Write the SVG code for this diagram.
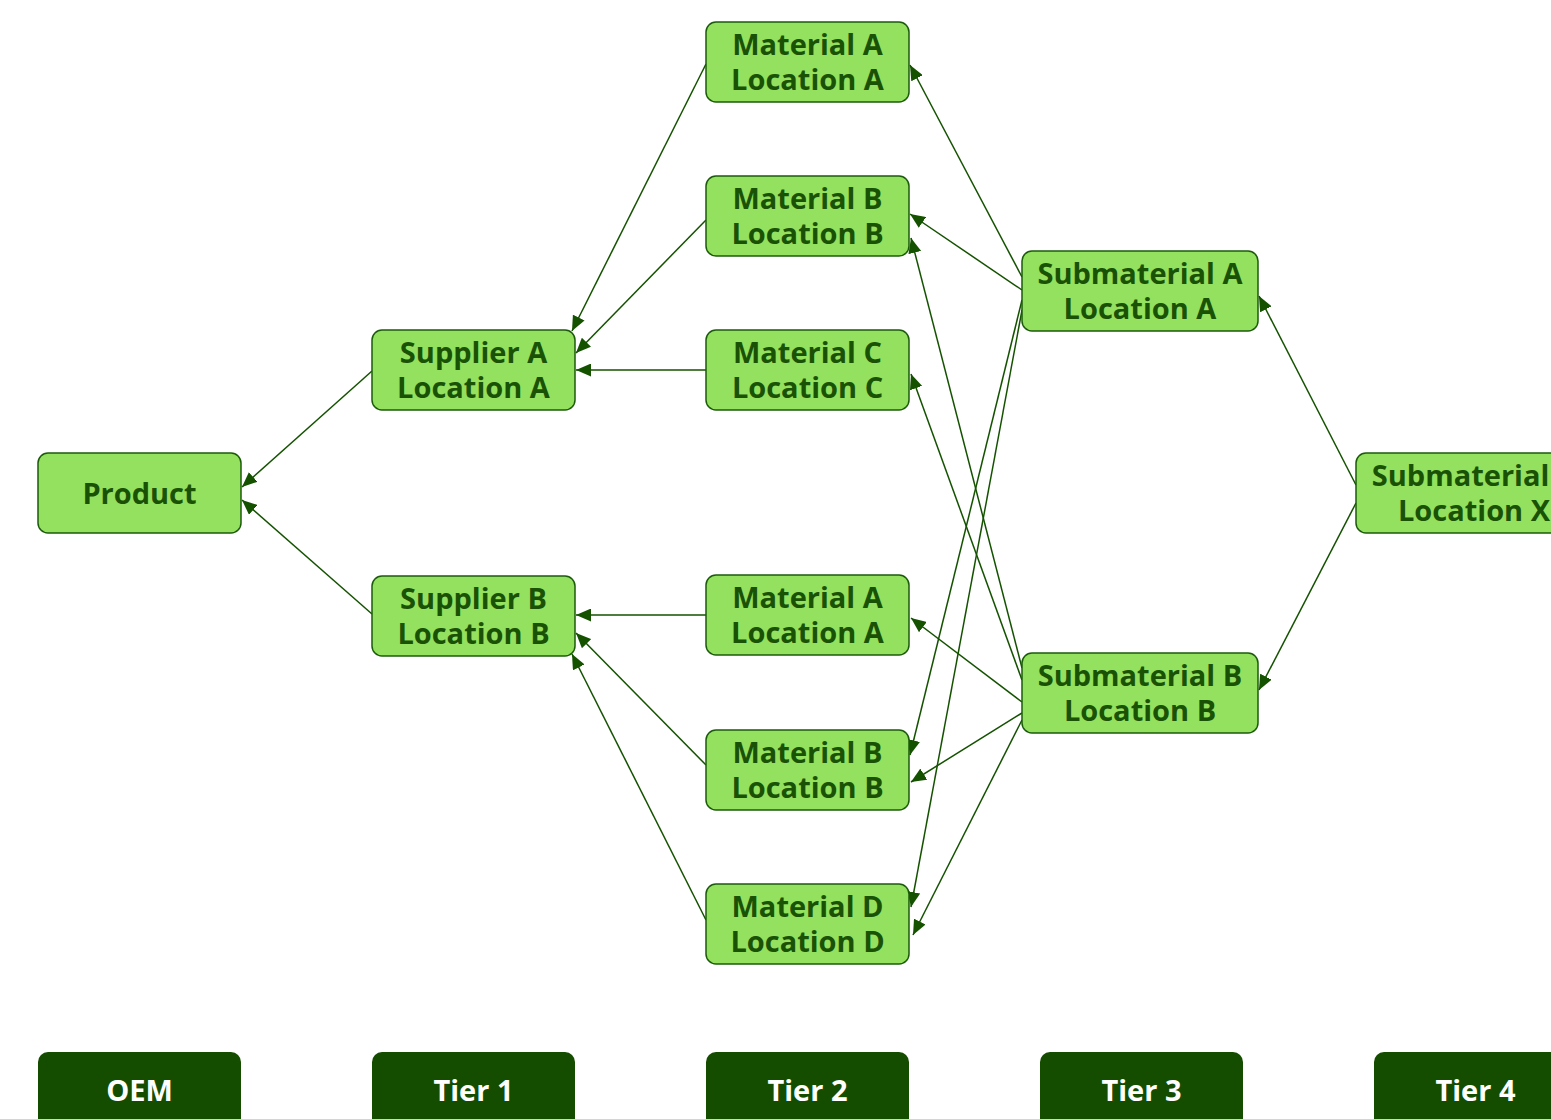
<svg xmlns="http://www.w3.org/2000/svg" width="1551" height="1119" viewBox="0 0 1551 1119">
<style>
.node rect{fill:#93E15E;stroke:#1C5B0B;stroke-width:1.5}
.node text{font-family:"Open Sans","Noto Sans",sans-serif;font-weight:700;font-size:29px;fill:#1A5205;text-anchor:middle}
.tier rect{fill:#144D00;stroke:none}
.tier text{font-family:"Open Sans","Noto Sans",sans-serif;font-weight:700;font-size:29px;fill:#FFFFFF;text-anchor:middle}
.edges line{stroke:#145200;stroke-width:1.5;fill:none;marker-end:url(#arrow)}
</style>
<defs>
<marker id="arrow" markerUnits="userSpaceOnUse" markerWidth="15" markerHeight="13" refX="15" refY="6.5" orient="auto">
<path d="M0,0 L15,6.5 L0,13 z" fill="#145200"/>
</marker>
</defs>
<rect width="1551" height="1119" fill="#FFFFFF"/>
<g class="edges" id="connectors">
<line x1="372" y1="371" x2="242" y2="487"/>
<line x1="372" y1="614" x2="242" y2="500"/>
<line x1="706" y1="64" x2="572" y2="331"/>
<line x1="706" y1="220" x2="576" y2="353"/>
<line x1="706" y1="370" x2="576" y2="370"/>
<line x1="706" y1="615" x2="576" y2="615"/>
<line x1="706" y1="765" x2="576" y2="633"/>
<line x1="706" y1="920" x2="572" y2="654"/>
<line x1="1022" y1="277" x2="910" y2="65"/>
<line x1="1022" y1="290" x2="910" y2="214"/>
<line x1="1022" y1="300" x2="910" y2="755"/>
<line x1="1022" y1="310" x2="911" y2="907"/>
<line x1="1022" y1="668" x2="911" y2="238"/>
<line x1="1022" y1="680" x2="911" y2="374"/>
<line x1="1022" y1="702" x2="911" y2="618"/>
<line x1="1022" y1="713" x2="911" y2="782"/>
<line x1="1022" y1="720" x2="913" y2="935"/>
<line x1="1356" y1="485" x2="1259" y2="296"/>
<line x1="1356" y1="503" x2="1259" y2="690"/>
</g>
<g class="node" id="product"><rect x="38" y="453" width="203" height="80" rx="10"/><text x="139.5" y="503.5">Product</text></g>
<g class="node" id="supplierA"><rect x="372" y="330" width="203" height="80" rx="10"/><text x="473.5" y="363">Supplier A</text><text x="473.5" y="398">Location A</text></g>
<g class="node" id="supplierB"><rect x="372" y="576" width="203" height="80" rx="10"/><text x="473.5" y="609">Supplier B</text><text x="473.5" y="644">Location B</text></g>
<g class="node" id="materialA1"><rect x="706" y="22" width="203" height="80" rx="10"/><text x="807.5" y="55">Material A</text><text x="807.5" y="90">Location A</text></g>
<g class="node" id="materialB1"><rect x="706" y="176" width="203" height="80" rx="10"/><text x="807.5" y="209">Material B</text><text x="807.5" y="244">Location B</text></g>
<g class="node" id="materialC"><rect x="706" y="330" width="203" height="80" rx="10"/><text x="807.5" y="363">Material C</text><text x="807.5" y="398">Location C</text></g>
<g class="node" id="materialA2"><rect x="706" y="575" width="203" height="80" rx="10"/><text x="807.5" y="608">Material A</text><text x="807.5" y="643">Location A</text></g>
<g class="node" id="materialB2"><rect x="706" y="730" width="203" height="80" rx="10"/><text x="807.5" y="763">Material B</text><text x="807.5" y="798">Location B</text></g>
<g class="node" id="materialD"><rect x="706" y="884" width="203" height="80" rx="10"/><text x="807.5" y="917">Material D</text><text x="807.5" y="952">Location D</text></g>
<g class="node" id="submaterialA"><rect x="1022" y="251" width="236" height="80" rx="10"/><text x="1140" y="284">Submaterial A</text><text x="1140" y="319">Location A</text></g>
<g class="node" id="submaterialB"><rect x="1022" y="653" width="236" height="80" rx="10"/><text x="1140" y="686">Submaterial B</text><text x="1140" y="721">Location B</text></g>
<g class="node" id="submaterialX"><rect x="1356" y="453" width="236" height="80" rx="10"/><text x="1474" y="486">Submaterial X</text><text x="1474" y="521">Location X</text></g>
<g class="tier" id="tierOEM"><rect x="38" y="1052" width="203" height="90" rx="10"/><text x="139.5" y="1101">OEM</text></g>
<g class="tier" id="tier1"><rect x="372" y="1052" width="203" height="90" rx="10"/><text x="473.5" y="1101">Tier 1</text></g>
<g class="tier" id="tier2"><rect x="706" y="1052" width="203" height="90" rx="10"/><text x="807.5" y="1101">Tier 2</text></g>
<g class="tier" id="tier3"><rect x="1040" y="1052" width="203" height="90" rx="10"/><text x="1141.5" y="1101">Tier 3</text></g>
<g class="tier" id="tier4"><rect x="1374" y="1052" width="203" height="90" rx="10"/><text x="1475.5" y="1101">Tier 4</text></g>
</svg>
